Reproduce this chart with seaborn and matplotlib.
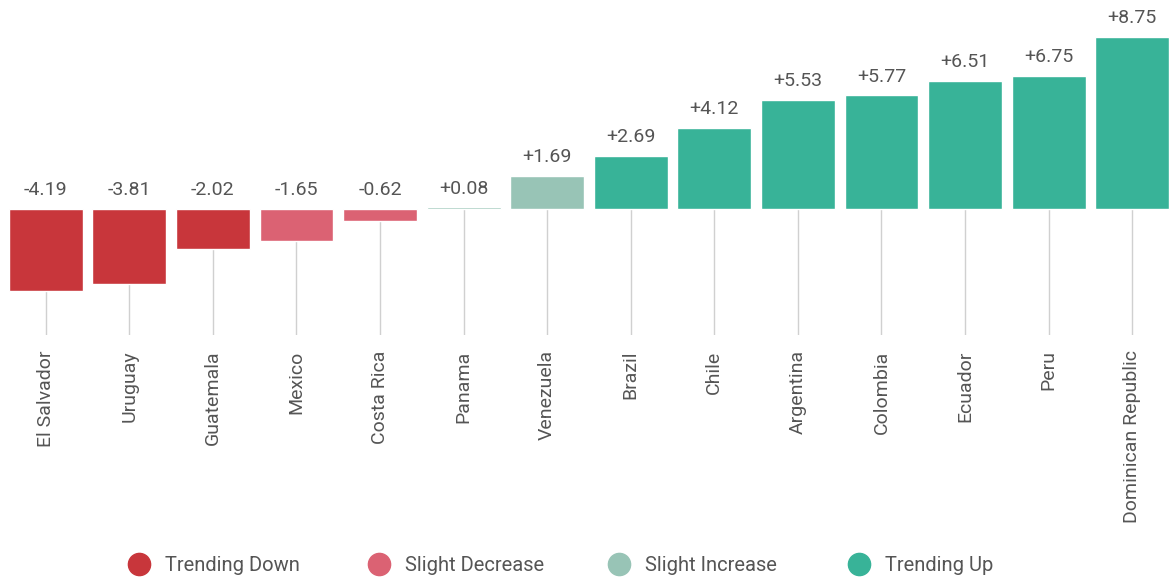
import matplotlib
matplotlib.use("Agg")
import matplotlib.pyplot as plt
from matplotlib.lines import Line2D
import seaborn as sns
import pandas as pd

countries = ["El Salvador", "Uruguay", "Guatemala", "Mexico", "Costa Rica", "Panama",
             "Venezuela", "Brazil", "Chile", "Argentina", "Colombia", "Ecuador", "Peru",
             "Dominican Republic"]
values = [-4.19, -3.81, -2.02, -1.65, -0.62, 0.08, 1.69, 2.69, 4.12, 5.53, 5.77, 6.51, 6.75, 8.75]
trends = ["Trending Down", "Trending Down", "Trending Down", "Slight Decrease", "Slight Decrease",
          "Slight Increase", "Slight Increase", "Trending Up", "Trending Up", "Trending Up",
          "Trending Up", "Trending Up", "Trending Up", "Trending Up"]
legend_order = ["Trending Down", "Slight Decrease", "Slight Increase", "Trending Up"]
palette = {"Trending Down": "#C8363B", "Slight Decrease": "#DB6273",
           "Slight Increase": "#98C4B6", "Trending Up": "#38B398"}

df = pd.DataFrame({"country": countries, "value": values, "trend": trends})

sns.set_theme(style="white")
plt.rcParams["font.family"] = ["Roboto", "DejaVu Sans"]
text_color = "#555555"

fig = plt.figure(figsize=(11.74, 5.78), dpi=100)
ax = fig.add_axes([0.0034, 0.4204, 0.9966, 0.5706])

ymin, ymax = -6.4, 10.35
n = len(countries)
ax.vlines(range(n), ymin, 0, color="#d0d0d0", linewidth=1, zorder=0)

sns.barplot(data=df, x="country", y="value", hue="trend", palette=palette,
            hue_order=legend_order, dodge=False, width=0.885, saturation=1,
            legend=False, ax=ax, zorder=2)

for i, v in enumerate(values):
    ax.text(i, max(v, 0) + 0.5, f"{v:+.2f}", ha="center", va="bottom",
            fontsize=14, color=text_color)

ax.set_xlim(-0.5, n - 0.5)
ax.set_ylim(ymin, ymax)
ax.set_xlabel("")
ax.set_ylabel("")
ax.set_yticks([])
ax.tick_params(axis="x", length=0, pad=11)
for lab in ax.get_xticklabels():
    lab.set_rotation(90)
    lab.set_fontsize(14)
    lab.set_color(text_color)
    lab.set_va("top")
for s in ax.spines.values():
    s.set_visible(False)

# legend: one entry per fixed-width column
x0, pitch = 0.108, 0.2045
for i, t in enumerate(legend_order):
    h = Line2D([0], [0], marker="o", linestyle="", markersize=16,
               markerfacecolor=palette[t], markeredgecolor=palette[t])
    leg = fig.legend([h], [t], loc="center left", bbox_to_anchor=(x0 + i * pitch, 0.022),
                     frameon=False, fontsize=14.5, handletextpad=0.7,
                     borderaxespad=0, borderpad=0, handlelength=1.2)
    for tx in leg.get_texts():
        tx.set_color(text_color)

fig.savefig("out.png", dpi=100)
